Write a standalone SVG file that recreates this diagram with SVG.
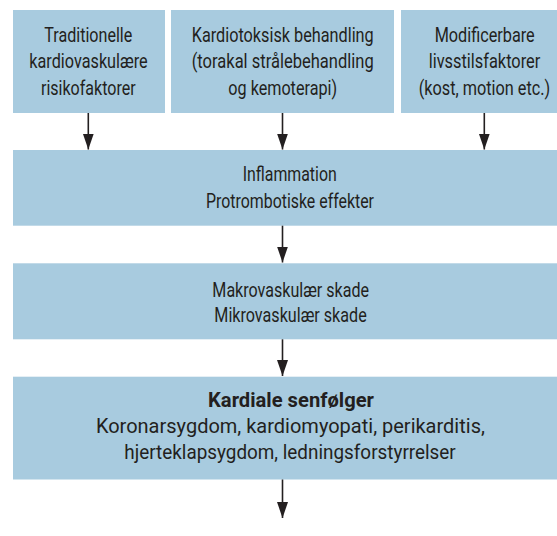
<svg xmlns="http://www.w3.org/2000/svg" width="557" height="536" viewBox="0 0 557 536">
<style>
.box{fill:#a8cbdf;}
text{font-family:Roboto,"Liberation Sans",sans-serif;font-size:19.5px;fill:#231f20;text-anchor:middle;}
.b{font-weight:bold;}
.conn line{stroke:#231f20;stroke-width:1.6;}
</style>
<defs>
<marker id="ah" viewBox="0 -5.5 16 11" refX="16" refY="0" markerWidth="16" markerHeight="11" markerUnits="userSpaceOnUse" orient="auto">
<path d="M0,-5.5 L16,0 L0,5.5 Z" fill="#231f20"/>
</marker>
</defs>
<rect width="557" height="536" fill="#ffffff"/>
<g id="n1">
<rect class="box" x="13" y="10" width="152" height="103"/>
<text x="88.3" y="41.7" textLength="88" lengthAdjust="spacingAndGlyphs">Traditionelle</text>
<text x="88.5" y="68.3" textLength="118.4" lengthAdjust="spacingAndGlyphs">kardiovaskulære</text>
<text x="88.3" y="95" textLength="94.7" lengthAdjust="spacingAndGlyphs">risikofaktorer</text>
</g>
<g id="n2">
<rect class="box" x="171" y="10" width="223" height="103"/>
<text x="282.7" y="41.7" textLength="182" lengthAdjust="spacingAndGlyphs">Kardiotoksisk behandling</text>
<text x="282.7" y="68.3" textLength="182" lengthAdjust="spacingAndGlyphs">(torakal strålebehandling</text>
<text x="282.7" y="95" textLength="108.7" lengthAdjust="spacingAndGlyphs">og kemoterapi)</text>
</g>
<g id="n3">
<rect class="box" x="401" y="10" width="156" height="103"/>
<text x="484.7" y="41.7" textLength="100" lengthAdjust="spacingAndGlyphs">Modificerbare</text>
<text x="484.5" y="68.3" textLength="111.6" lengthAdjust="spacingAndGlyphs">livsstilsfaktorer</text>
<text x="484.5" y="95" textLength="131.6" lengthAdjust="spacingAndGlyphs">(kost, motion etc.)</text>
</g>
<g id="n4">
<rect class="box" x="13" y="150" width="544" height="75.7"/>
<text x="289.7" y="181" textLength="94" lengthAdjust="spacingAndGlyphs">Inflammation</text>
<text x="290" y="207.7" textLength="168" lengthAdjust="spacingAndGlyphs">Protrombotiske effekter</text>
</g>
<g id="n5">
<rect class="box" x="13" y="263.3" width="544" height="76"/>
<text x="290.7" y="296.7" textLength="156.7" lengthAdjust="spacingAndGlyphs">Makrovaskulær skade</text>
<text x="290.5" y="322.3" textLength="152.4" lengthAdjust="spacingAndGlyphs">Mikrovaskulær skade</text>
</g>
<g id="n6">
<rect class="box" x="13" y="376.7" width="544" height="102.8"/>
<text class="b" x="291" y="407.3" textLength="166" lengthAdjust="spacingAndGlyphs">Kardiale senfølger</text>
<text x="290.4" y="433.3" textLength="389" lengthAdjust="spacingAndGlyphs">Koronarsygdom, kardiomyopati, perikarditis,</text>
<text x="290" y="459" textLength="331.5" lengthAdjust="spacingAndGlyphs">hjerteklapsygdom, ledningsforstyrrelser</text>
</g>
<g id="connectors" class="conn">
<line x1="88.3" y1="113" x2="88.3" y2="149.5" marker-end="url(#ah)"/>
<line x1="282.5" y1="113" x2="282.5" y2="149.5" marker-end="url(#ah)"/>
<line x1="484.3" y1="113" x2="484.3" y2="149.5" marker-end="url(#ah)"/>
<line x1="282.5" y1="225.7" x2="282.5" y2="262.5" marker-end="url(#ah)"/>
<line x1="282.5" y1="339.3" x2="282.5" y2="376" marker-end="url(#ah)"/>
<line x1="282.5" y1="479.5" x2="282.5" y2="518" marker-end="url(#ah)"/>
</g>
</svg>
